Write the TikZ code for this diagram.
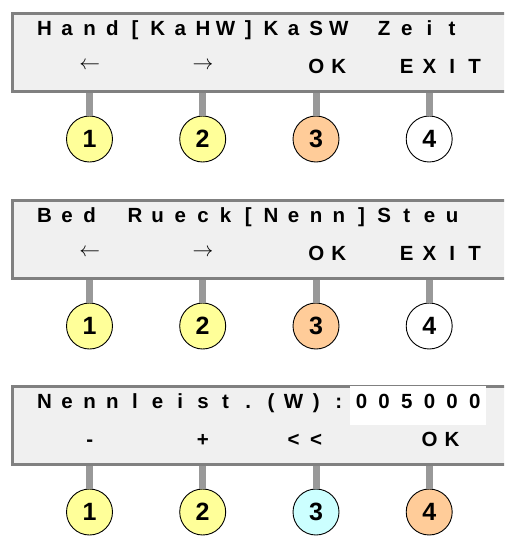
\documentclass[tikz,border=0pt]{standalone}
\usepackage{fontspec}
\setmainfont{Liberation Sans}
\definecolor{lcdfill}{HTML}{F0F0F0}
\definecolor{lcdedge}{HTML}{808080}
\definecolor{stubc}{HTML}{999999}
\definecolor{keyyel}{HTML}{FFFF99}
\definecolor{keyora}{HTML}{FFCC99}
\definecolor{keycya}{HTML}{CCFFFF}
\newlength\lcdcell \setlength\lcdcell{22.65pt}
\makeatletter
\def\lcd@end{\lcd@end}
\newcommand\lcdrow[1]{\lcd@loop#1\lcd@end}
\def\lcd@loop#1{\ifx\lcd@end#1\else\makebox[\lcdcell][c]{#1}\expandafter\lcd@loop\fi}
\makeatother
\newcommand\la{{\raisebox{3.5pt}{\mdseries$\leftarrow$}}}
\newcommand\ra{{\raisebox{3.5pt}{\mdseries$\rightarrow$}}}
\tikzset{
  lcdbox/.style={draw=lcdedge, line width=3pt, fill=lcdfill, rectangle, inner sep=0pt,
    minimum width=510pt, minimum height=78pt, anchor=north west},
  lcdtxt/.style={inner sep=0pt, anchor=base west, font=\bfseries\fontsize{20.5}{20.5}\selectfont},
  key/.style={circle, draw=black, line width=0.9pt, minimum size=46pt, inner sep=0pt,
    font=\bfseries\fontsize{25}{25}\selectfont},
  stub/.style={draw=stubc, line width=7pt}
}
\begin{document}
\begin{tikzpicture}[x=1pt, y=-1pt]
\useasboundingbox (0,0) rectangle (504,536);
\clip (0,0) rectangle (504,536);
% ---------- panel 1
\node[lcdbox] (d1) at (11,11.5) {};
\node[lcdtxt] (t1a) at (32.9,35) {\lcdrow{Hand[KaHW]KaSW~Zeit}};
\node[lcdtxt] (t1b) at (32.9,73) {\lcdrow{~~\la~~~~\ra~~~~OK~~EXIT}};
\node[key, fill=keyyel] (k11) at (89.5,139) {1};
\node[key, fill=keyyel] (k12) at (202.7,139) {2};
\node[key, fill=keyora] (k13) at (316,139) {3};
\node[key, fill=white]  (k14) at (429.2,139) {4};
\foreach \k in {k11,k12,k13,k14} \draw[stub] (\k |- d1.south) -- (\k.north);
% ---------- panel 2
\node[lcdbox] (d2) at (11,198.5) {};
\node[lcdtxt] (t2a) at (32.9,222) {\lcdrow{Bed~Rueck[Nenn]Steu}};
\node[lcdtxt] (t2b) at (32.9,260) {\lcdrow{~~\la~~~~\ra~~~~OK~~EXIT}};
\node[key, fill=keyyel] (k21) at (89.5,326) {1};
\node[key, fill=keyyel] (k22) at (202.7,326) {2};
\node[key, fill=keyora] (k23) at (316,326) {3};
\node[key, fill=white]  (k24) at (429.2,326) {4};
\foreach \k in {k21,k22,k23,k24} \draw[stub] (\k |- d2.south) -- (\k.north);
% ---------- panel 3
\node[lcdbox] (d3) at (11,384.5) {};
\fill[white] (350,386) rectangle (486,425);
\node[lcdtxt] (t3a) at (32.9,408) {\lcdrow{Nennleist.(W):005000}};
\node[lcdtxt] (t3b) at (32.9,446) {\lcdrow{~~-~~~~+~~~<<~~~~OK}};
\node[key, fill=keyyel] (k31) at (89.5,512) {1};
\node[key, fill=keyyel] (k32) at (202.7,512) {2};
\node[key, fill=keycya] (k33) at (316,512) {3};
\node[key, fill=keyora] (k34) at (429.2,512) {4};
\foreach \k in {k31,k32,k33,k34} \draw[stub] (\k |- d3.south) -- (\k.north);
\end{tikzpicture}
\end{document}
